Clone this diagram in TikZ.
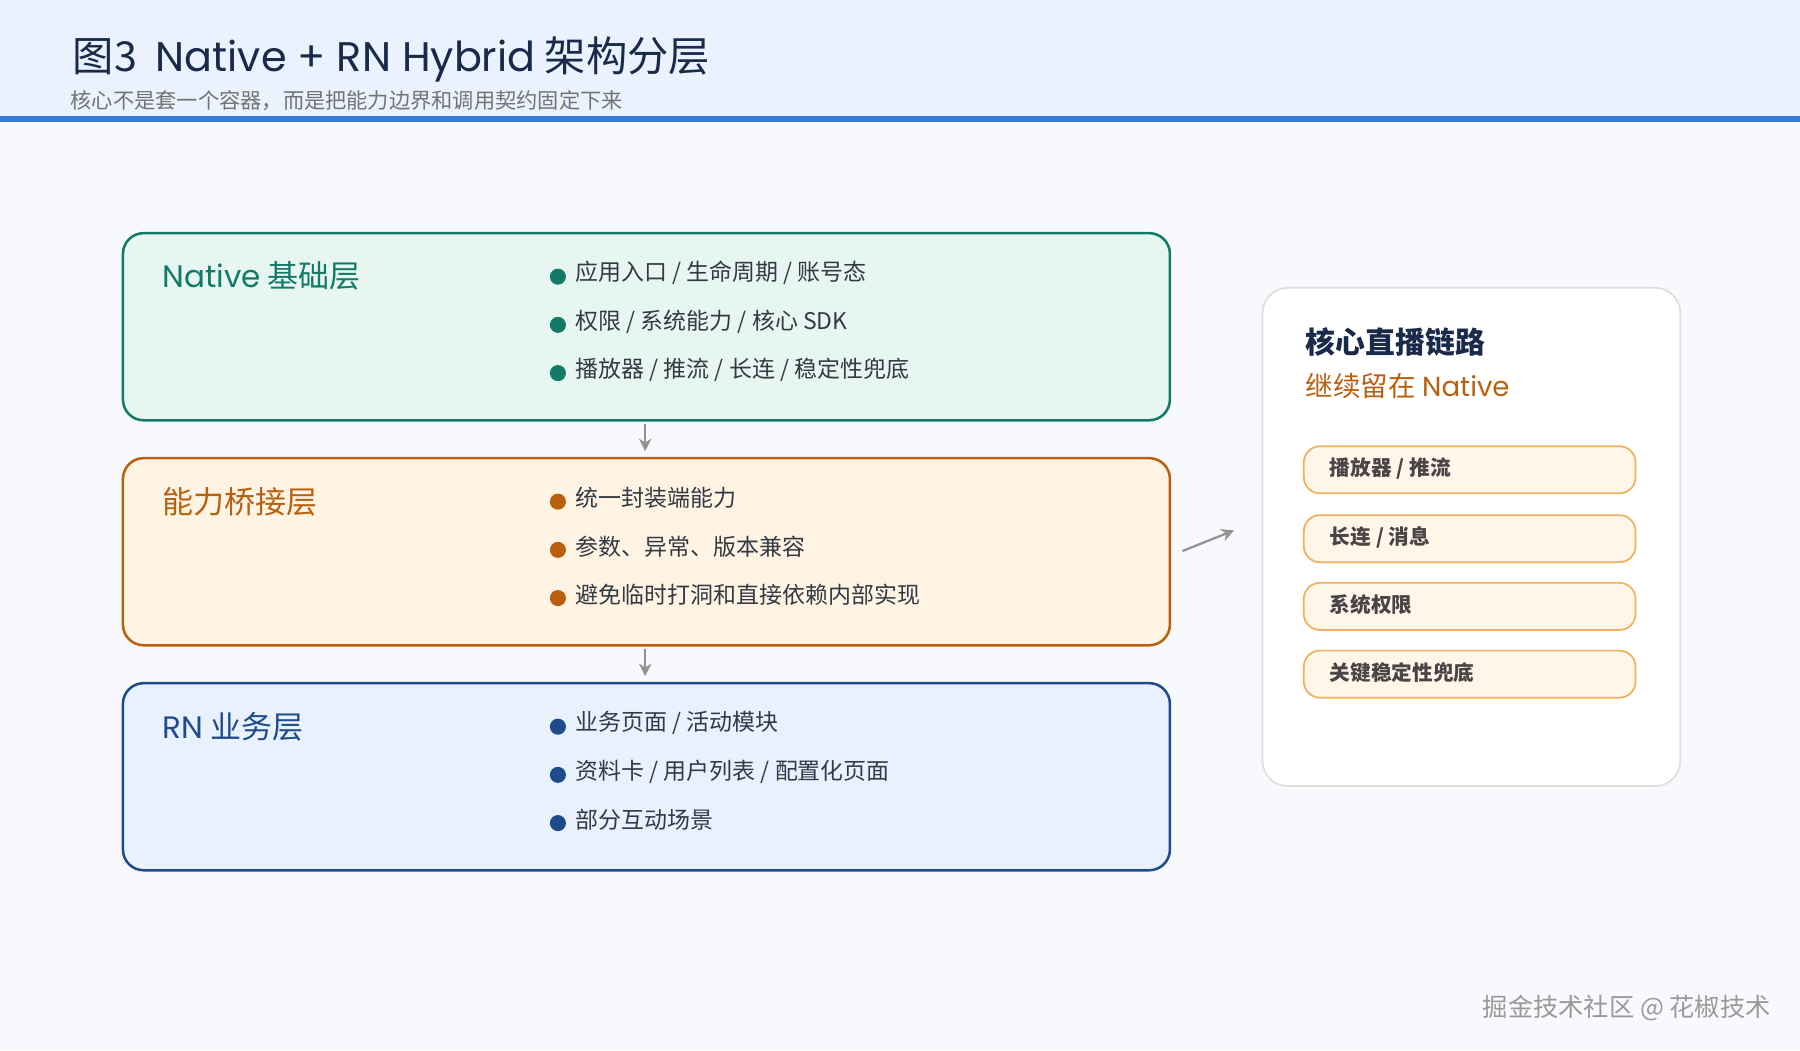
\documentclass[tikz,border=0pt]{standalone}
\usepackage{fontspec}
\setmainfont{Noto Sans CJK SC}
\newfontfamily\lat{Poppins}
\usetikzlibrary{arrows.meta}
\definecolor{bg}{HTML}{F7F9FC}
\definecolor{hdr}{HTML}{EAF3FD}
\definecolor{blue}{HTML}{3A7BD5}
\definecolor{navy}{HTML}{1A2B4A}
\definecolor{tealc}{HTML}{137A68}\definecolor{tealf}{HTML}{E8F6F1}
\definecolor{orc}{HTML}{B9600F}\definecolor{orf}{HTML}{FFF3E3}
\definecolor{blc}{HTML}{1F4B8A}\definecolor{blf}{HTML}{E9F1FD}
\definecolor{txt}{HTML}{333A44}
\definecolor{pillc}{HTML}{F0B060}\definecolor{pillf}{HTML}{FFF6EA}
\begin{document}
\begin{tikzpicture}[x=1pt,y=-1pt,
 layer/.style={draw, line width=2.2pt, rounded corners=18pt, minimum width=912pt, minimum height=163pt, anchor=north west},
 ltitle/.style={anchor=west, font=\fontsize{27}{30}\selectfont},
 item/.style={anchor=west, font=\fontsize{20}{24}\selectfont, text=txt},
 dot/.style={circle, inner sep=0pt, minimum size=14pt},
 pill/.style={draw=pillc, fill=pillf, line width=1.5pt, rounded corners=14pt, minimum width=289pt, minimum height=41pt, anchor=north west},
 ptext/.style={anchor=west, font=\fontsize{18}{20}\selectfont\bfseries, text=navy!70!brown},
 conn/.style={-{Stealth[length=11pt,width=11pt]}, draw=gray!85, line width=2pt}]
\useasboundingbox (0,0) rectangle (1568,915);
\fill[bg] (0,0) rectangle (1568,915);
\fill[hdr] (0,0) rectangle (1568,103);
\fill[blue] (0,101) rectangle (1568,106);
\node[anchor=west, text=navy, font=\fontsize{36}{40}\selectfont] (title) at (60,52) {图3\ \ {\lat Native + RN Hybrid} 架构分层};
\node[anchor=west, text=gray!90!black, font=\fontsize{18.5}{20}\selectfont] (sub) at (58,88) {核心不是套一个容器，而是把能力边界和调用契约固定下来};
% layers
\node[layer, draw=tealc, fill=tealf] (L1) at (106,202) {};
\node[layer, draw=orc, fill=orf] (L2) at (106,398) {};
\node[layer, draw=blc, fill=blf] (L3) at (106,594) {};
\node[ltitle, text=tealc] (t1) at (138,240) {{\lat Native} 基础层};
\node[ltitle, text=orc] (t2) at (138,437) {能力桥接层};
\node[ltitle, text=blc] (t3) at (138,633) {{\lat RN} 业务层};
\foreach \y/\s [count=\i] in {238/{应用入口 / 生命周期 / 账号态}, 280/{权限 / 系统能力 / 核心 SDK}, 322/{播放器 / 推流 / 长连 / 稳定性兜底}}{
 \node[dot, fill=tealc] (a\i) at (486,\y+3) {}; \node[item] (at\i) at (498,\y) {\s};}
\foreach \y/\s [count=\i] in {434/统一封装端能力, 476/参数、异常、版本兼容, 518/避免临时打洞和直接依赖内部实现}{
 \node[dot, fill=orc] (b\i) at (486,\y+3) {}; \node[item] (bt\i) at (498,\y) {\s};}
\foreach \y/\s [count=\i] in {630/{业务页面 / 活动模块}, 672/{资料卡 / 用户列表 / 配置化页面}, 714/部分互动场景}{
 \node[dot, fill=blc] (c\i) at (486,\y+3) {}; \node[item] (ct\i) at (498,\y) {\s};}
\coordinate (d1) at (562,369); \coordinate (d2) at (562,393);
\coordinate (d3) at (562,565); \coordinate (d4) at (562,589);
\draw[conn] (d1) -- (d2);
\draw[conn] (d3) -- (d4);
% right panel
\node[draw=gray!25, fill=white, line width=1.5pt, rounded corners=22pt, minimum width=364pt, minimum height=434pt, anchor=north west] (P) at (1099,250) {};
\node[anchor=west, text=navy, font=\fontsize{26}{30}\selectfont\bfseries] (pt) at (1134,298) {核心直播链路};
\node[anchor=west, text=orc, font=\fontsize{24}{28}\selectfont] (ps) at (1134,336) {继续留在 {\lat Native}};
\foreach \y/\s [count=\i] in {388/{播放器 / 推流}, 448/{长连 / 消息}, 507/系统权限, 566/关键稳定性兜底}{
 \node[pill] (p\i) at (1135,\y) {}; \node[ptext] (pt\i) at (1155,\y+20) {\s};}
\coordinate (r1) at (1030,480); \coordinate (r2) at (1075,462);
\draw[conn] (r1) -- (r2);
\node[anchor=east, text=gray!80, font=\fontsize{22}{24}\selectfont] (wm) at (1546,878) {掘金技术社区 @ 花椒技术};
\end{tikzpicture}
\end{document}
